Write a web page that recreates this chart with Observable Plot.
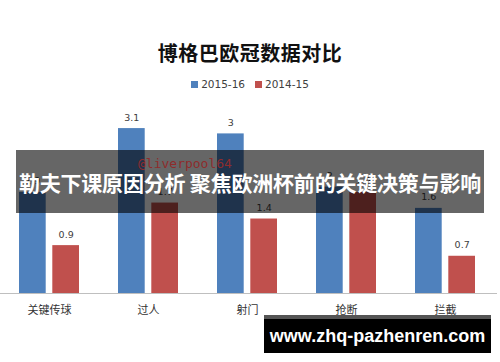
<!DOCTYPE html>
<html>
<head>
<meta charset="utf-8">
<script src="https://cdn.jsdelivr.net/npm/d3@7"></script>
<script src="https://cdn.jsdelivr.net/npm/@observablehq/plot@0.6"></script>
<style>
  html, body { margin: 0; padding: 0; background: #fff; }
  #wrap { position: relative; width: 500px; height: 362px; overflow: hidden; font-family: "Noto Sans CJK SC", "Noto Sans", sans-serif; }
  #title { position: absolute; left: 0; top: 39px; width: 500px; text-align: center; font-size: 20px; line-height: 28px; font-weight: 700; color: #111; letter-spacing: 0.5px; }
  #legend { position: absolute; left: 0; top: 76px; width: 500px; display: flex; justify-content: center; align-items: center; font-size: 10.5px; line-height: 16px; color: #404040; font-family: "DejaVu Sans", sans-serif; }
  .sw { display: inline-block; width: 7px; height: 7px; margin-right: 3px; }
  .item { display: inline-flex; align-items: center; margin: 0 5px; }
  #chart { position: absolute; left: 0; top: 100px; }
  #banner { position: absolute; left: 16px; top: 150px; width: 468px; height: 63px; background: rgba(0,0,0,0.6); color: #fff; font-weight: 700; font-size: 21px; line-height: 63px; text-align: center; white-space: nowrap; letter-spacing: -0.2px; }
  #banner span { position: relative; top: 1px; }
  #wm { position: absolute; left: 138px; top: 156px; font-family: "DejaVu Sans Mono", monospace; font-size: 13px; color: #8e2c2c; white-space: nowrap; }
  #site { position: absolute; left: 264px; top: 315px; width: 227px; height: 38px; background: #000; border-top: 4px solid #555; box-sizing: border-box; color: #fff; font-weight: 700; font-size: 18px; line-height: 34px; text-align: center; white-space: nowrap; font-family: "Liberation Sans", "Open Sans", sans-serif; }
</style>
</head>
<body>
<div id="wrap">
  <div id="title">博格巴欧冠数据对比</div>
  <div id="legend"></div>
  <div id="chart"></div>
  <div id="banner"><span>勒夫下课原因分析 聚焦欧洲杯前的关键决策与影响</span></div>
  <div id="wm">@liverpool64</div>
  <div id="site">www.zhq-pazhenren.com</div>
</div>
<script>
const categories = ["关键传球", "过人", "射门", "抢断", "拦截"];
const seriesNames = ["2015-16", "2014-15"];
const values2015_16 = [1.9, 3.1, 3, 2, 1.6];
const values2014_15 = [0.9, 1.7, 1.4, 1.9, 0.7];
const colors = ["#4f81bd", "#c0504d"];

const legend = document.getElementById("legend");
seriesNames.forEach((s, i) => {
  const it = document.createElement("span");
  it.className = "item";
  it.innerHTML = `<span class="sw" style="background:${colors[i]}"></span>${s}`;
  legend.appendChild(it);
});

const rows = [];
categories.forEach((c, i) => {
  rows.push({cat: c, series: seriesNames[0], value: values2015_16[i]});
  rows.push({cat: c, series: seriesNames[1], value: values2014_15[i]});
});
const a = rows.filter(d => d.series === seriesNames[0]);
const b = rows.filter(d => d.series === seriesNames[1]);

const bandInset = 33.3;
const off = 16.65;

const chart = Plot.plot({
  width: 500,
  height: 262,
  marginLeft: 0,
  marginRight: 3,
  marginTop: 7,
  marginBottom: 69,
  x: {domain: categories, range: [-2, 496], paddingInner: 0.397, paddingOuter: 0.1985, axis: null},
  y: {domain: [0, 3.5], range: [193, 6.8], axis: null},
  style: {fontFamily: "'Noto Sans CJK SC', sans-serif", background: "transparent"},
  marks: [
    Plot.barY(a, {x: "cat", y: "value", fill: colors[0], insetRight: bandInset, insetLeft: 0}),
    Plot.barY(b, {x: "cat", y: "value", fill: colors[1], insetLeft: bandInset, insetRight: 0}),
    Plot.ruleY([0], {stroke: "#bfbfbf", strokeWidth: 1}),
    Plot.text(a, {x: "cat", y: "value", text: d => String(d.value), dx: -off, dy: -11, fontSize: 9.5, fill: "#404040", fontFamily: "DejaVu Sans, sans-serif"}),
    Plot.text(b, {x: "cat", y: "value", text: d => String(d.value), dx: off, dy: -11, fontSize: 9.5, fill: "#404040", fontFamily: "DejaVu Sans, sans-serif"}),
    Plot.axisX({domain: categories, tickSize: 0, tickPadding: 13, fontSize: 11, color: "#333", anchor: "bottom", label: null})
  ]
});
document.getElementById("chart").appendChild(chart);
</script>
</body>
</html>
